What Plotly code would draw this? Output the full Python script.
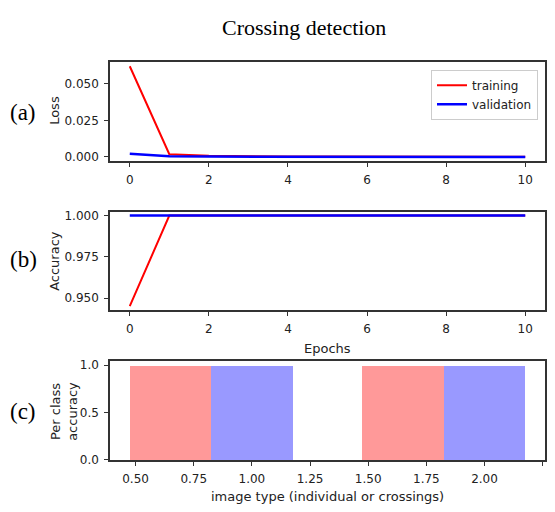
import plotly.graph_objects as go

epochs = list(range(11))
train_loss = [0.0620, 0.0018, 0.0008, 0.0004, 0.0003, 0.0002, 0.0002, 0.0001, 0.0001, 0.0001, 0.0001]
val_loss = [0.0021, 0.0004, 0.0002, 0.0001, 0.0001, 0.0001, 0.0001, 0.0000, 0.0000, 0.0000, 0.0000]
train_acc = [0.9451, 1.0, 1.0, 1.0, 1.0, 1.0, 1.0, 1.0, 1.0, 1.0, 1.0]
val_acc = [1.0, 1.0, 1.0, 1.0, 1.0, 1.0, 1.0, 1.0, 1.0, 1.0, 1.0]
class_index = [1, 2]
class_acc_train = [1.0, 1.0]
class_acc_val = [1.0, 1.0]
bar_width = 0.35

RED = "#ff0000"
BLUE = "#0000ff"
SANS = "DejaVu Sans"
SERIF = "Liberation Serif"
TXT = "#222222"

fig = go.Figure()
fig.add_trace(go.Scatter(x=epochs, y=train_loss, mode="lines", name="training",
                         line=dict(color=RED, width=2), xaxis="x", yaxis="y"))
fig.add_trace(go.Scatter(x=epochs, y=val_loss, mode="lines", name="validation",
                         line=dict(color=BLUE, width=2.5), xaxis="x", yaxis="y"))
fig.add_trace(go.Scatter(x=epochs, y=train_acc, mode="lines", showlegend=False,
                         line=dict(color=RED, width=2), xaxis="x2", yaxis="y2"))
fig.add_trace(go.Scatter(x=epochs, y=val_acc, mode="lines", showlegend=False,
                         line=dict(color=BLUE, width=2.5), xaxis="x2", yaxis="y2"))
fig.add_trace(go.Bar(x=[c - bar_width for c in class_index], y=class_acc_train, width=bar_width,
                     marker=dict(color="rgba(255,0,0,0.4)", line=dict(width=0)),
                     showlegend=False, xaxis="x3", yaxis="y3"))
fig.add_trace(go.Bar(x=class_index, y=class_acc_val, width=bar_width,
                     marker=dict(color="rgba(0,0,255,0.4)", line=dict(width=0)),
                     showlegend=False, xaxis="x3", yaxis="y3"))

W, H = 555, 512
xdom = [110 / W, 545 / W]
def ydom(top, bot):
    return [1 - bot / H, 1 - top / H]

axis_common = dict(showgrid=False, zeroline=False, showline=True, linecolor="#333333",
                   linewidth=1.5, mirror=True, ticks="outside", ticklen=4, tickcolor="#333333",
                   ticklabelstandoff=3,
                   tickfont=dict(family=SANS, size=12, color=TXT))

def ann(text, x, y, size=13, family=SANS, angle=0, color=TXT):
    return dict(text=text, x=x / W, y=1 - y / H, xref="paper", yref="paper",
                xanchor="center", yanchor="middle", showarrow=False, textangle=angle,
                font=dict(family=family, size=size, color=color))

fig.update_layout(
    width=W, height=H,
    margin=dict(l=0, r=0, t=0, b=0),
    paper_bgcolor="white", plot_bgcolor="white",
    bargap=0,
    xaxis=dict(domain=xdom, anchor="y", range=[-0.5, 10.5], tickvals=[0, 2, 4, 6, 8, 10], **axis_common),
    yaxis=dict(domain=ydom(60, 161), anchor="x", range=[-0.0027, 0.065],
               tickvals=[0.0, 0.025, 0.05], tickformat=".3f", **axis_common),
    xaxis2=dict(domain=xdom, anchor="y2", range=[-0.5, 10.5], tickvals=[0, 2, 4, 6, 8, 10], **axis_common),
    yaxis2=dict(domain=ydom(212.7, 313.3), anchor="x2", range=[0.9427, 1.0024],
                tickvals=[0.95, 0.975, 1.0], tickformat=".3f", **axis_common),
    xaxis3=dict(domain=xdom, anchor="y3", range=[0.39, 2.26],
                tickvals=[0.5, 0.75, 1.0, 1.25, 1.5, 1.75, 2.0, 2.25], tickformat=".2f", **axis_common),
    yaxis3=dict(domain=ydom(364.7, 466), anchor="x3", range=[0, 1.048],
                tickvals=[0.0, 0.5, 1.0], tickformat=".1f", **axis_common),
    legend=dict(x=538 / W, xanchor="right", y=1 - 68 / H, yanchor="top",
                bordercolor="#cccccc", borderwidth=1, bgcolor="white", itemwidth=30,
                font=dict(family=SANS, size=12, color=TXT)),
    annotations=[
        ann("Crossing detection", 304, 25, size=22, family=SERIF, color="black"),
        ann("(a)", 23, 112, size=23, family=SERIF, color="black"),
        ann("(b)", 23, 262, size=23, family=SERIF, color="black"),
        ann("(c)", 23, 417, size=23, family=SERIF, color="black"),
        ann("Loss", 55, 110, angle=-90),
        ann("Accuracy", 55, 263, angle=-90),
        ann("Per class<br>accuracy", 64, 417, angle=-90),
        ann("Epochs", 327, 352),
        ann("image type (individual or crossings)", 327, 503),
    ],
)

fig.write_html("out.html")
